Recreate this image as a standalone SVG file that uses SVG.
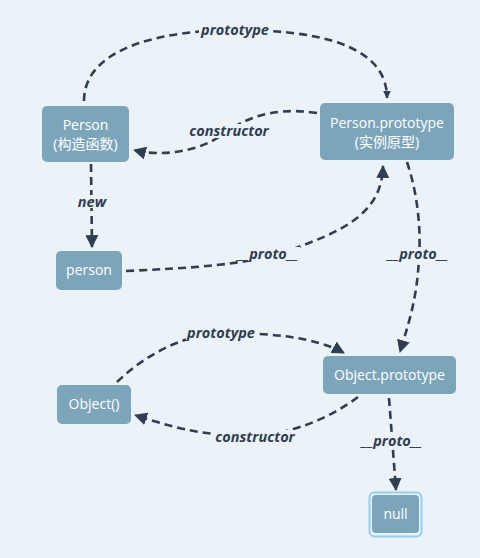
<svg xmlns="http://www.w3.org/2000/svg" width="480" height="558" viewBox="0 0 480 558">
<defs>
<style>
.node rect{fill:#7DA5BA;}
.node text{fill:#ffffff;font-family:"Open Sans","Noto Sans CJK SC",sans-serif;font-size:14px;text-anchor:middle;}
.edge{fill:none;stroke:#313D50;stroke-width:2.6;stroke-dasharray:8 5;}
.lbl{fill:#313D50;font-family:"Open Sans","Noto Sans",sans-serif;font-size:14.5px;font-weight:bold;font-style:italic;text-anchor:middle;}
.lblbg{fill:#EBF3F8;}
</style>
<marker id="big" markerUnits="userSpaceOnUse" viewBox="0 0 12 12" refX="11" refY="6" markerWidth="13" markerHeight="13" orient="auto"><path d="M0,0 L12,6 L0,12 Z" fill="#313D50"/></marker>
<marker id="small" markerUnits="userSpaceOnUse" viewBox="0 0 12 12" refX="11" refY="6" markerWidth="8" markerHeight="8" orient="auto"><path d="M0,0 L12,6 L0,12 Z" fill="#313D50"/></marker>
</defs>
<rect width="480" height="558" fill="#EBF3F8"/>
<g id="edges">
<path class="edge" d="M84,101 C84,45 170,30 235,30 C310,30 387,42 387,98" marker-end="url(#small)"/>
<rect class="lblbg" x="199" y="22" width="72" height="15"/>
<text class="lbl" x="235" y="35">prototype</text>
<path class="edge" d="M317,113 C270,106 242,120 222,135 C198,152 160,157 134,150" marker-end="url(#big)"/>
<rect class="lblbg" x="189" y="124" width="82" height="14"/>
<text class="lbl" x="229" y="136">constructor</text>
<path class="edge" d="M91,164 L92,247" marker-end="url(#big)"/>
<rect class="lblbg" x="77" y="195" width="30" height="13"/>
<text class="lbl" x="92" y="207">new</text>
<path class="edge" d="M126,271 C190,268 250,265 290,250 C340,232 382,215 383,166" marker-end="url(#big)"/>
<rect class="lblbg" x="238" y="247" width="62" height="14"/>
<text class="lbl" x="268" y="259">__proto__</text>
<path class="edge" d="M407,162 C418,195 421,230 419,258 C417,300 408,325 400,352" marker-end="url(#big)"/>
<rect class="lblbg" x="386" y="247" width="64" height="14"/>
<text class="lbl" x="418" y="259">__proto__</text>
<path class="edge" d="M117,382 C145,355 185,333 225,333 C270,333 315,337 344,353" marker-end="url(#big)"/>
<rect class="lblbg" x="186" y="326" width="72" height="14"/>
<text class="lbl" x="221" y="338">prototype</text>
<path class="edge" d="M358,397 C330,418 290,435 250,436 C200,436 165,425 135,415" marker-end="url(#big)"/>
<rect class="lblbg" x="214" y="430" width="82" height="14"/>
<text class="lbl" x="255" y="442">constructor</text>
<path class="edge" d="M389,398 L396,490" marker-end="url(#big)"/>
<rect class="lblbg" x="361" y="434" width="62" height="14"/>
<text class="lbl" x="392" y="446">__proto__</text>
</g>
<g id="node-person-ctor" class="node"><rect x="42" y="106" width="87" height="56" rx="5"/><text x="85.5" y="130">Person</text><text x="85.5" y="149">(构造函数)</text></g>
<g id="node-person-prototype" class="node"><rect x="320" y="103" width="134" height="57" rx="5"/><text x="387" y="128">Person.prototype</text><text x="387" y="147">(实例原型)</text></g>
<g id="node-person" class="node"><rect x="56" y="251" width="66" height="39" rx="5"/><text x="89" y="275">person</text></g>
<g id="node-object-prototype" class="node"><rect x="323" y="356" width="133" height="38" rx="5"/><text x="389.5" y="380">Object.prototype</text></g>
<g id="node-object" class="node"><rect x="57" y="385" width="74" height="39" rx="5"/><text x="94" y="409">Object()</text></g>
<g id="node-null" class="node"><rect x="369.5" y="492.5" width="52" height="44" rx="5" stroke="#97CDF2" stroke-width="2" style="fill:none"/><rect x="372" y="495" width="47" height="38" rx="4"/><text x="395.5" y="519">null</text></g>
</svg>
